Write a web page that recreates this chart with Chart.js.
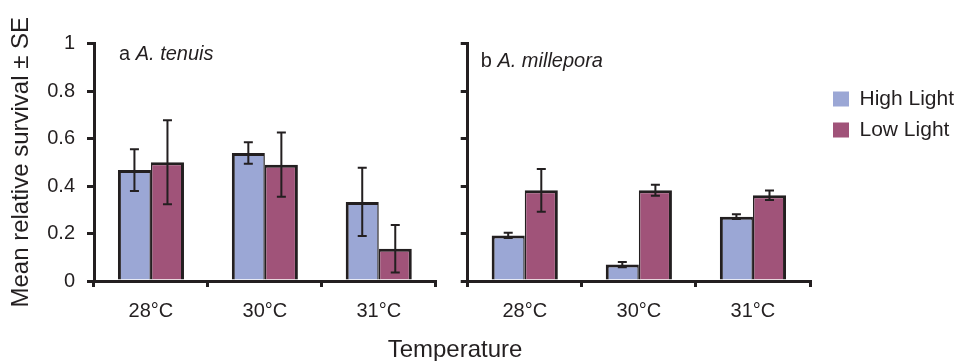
<!DOCTYPE html>
<html>
<head>
<meta charset="utf-8">
<script src="https://cdn.jsdelivr.net/npm/chart.js@4.4.1/dist/chart.umd.min.js"></script>
<style>
  html, body { margin: 0; padding: 0; background: #fff; overflow: hidden; }
  #wrap { position: relative; width: 959px; height: 361px; overflow: hidden; }
  canvas { position: absolute; top: 0; }
  #left { left: 0; }
  #right { left: 440px; }
</style>
</head>
<body>
<div id="wrap">
  <canvas id="left" width="959" height="361"></canvas>
  <canvas id="right" width="519" height="361"></canvas>
</div>
<script>
// data
const categories = ['28°C', '30°C', '31°C'];
const seriesNames = ['High Light', 'Low Light'];
const yTicks = [0, 0.2, 0.4, 0.6, 0.8, 1];

const tenuisHigh = [0.467, 0.539, 0.333];
const tenuisHighSE = [0.088, 0.045, 0.144];
const tenuisLow = [0.500, 0.490, 0.136];
const tenuisLowSE = [0.177, 0.135, 0.100];

const milleporaHigh = [0.192, 0.069, 0.271];
const milleporaHighSE = [0.011, 0.011, 0.010];
const milleporaLow = [0.382, 0.382, 0.361];
const milleporaLowSE = [0.090, 0.023, 0.020];

const ink = '#231F20';
const blue = '#9BA7D5';
const plum = '#A05379';
const family = '"Liberation Sans", Arial, sans-serif';

Chart.defaults.font.family = family;
Chart.defaults.color = ink;

// draws the ± SE whiskers on top of each bar
const errorBars = {
    id: 'errorBars',
    afterDatasetsDraw(chart) {
        const ctx = chart.ctx;
        const y = chart.scales.y;
        ctx.save();
        ctx.strokeStyle = ink;
        ctx.lineWidth = 2;
        chart.data.datasets.forEach((ds, i) => {
            chart.getDatasetMeta(i).data.forEach((bar, j) => {
                const top = y.getPixelForValue(ds.data[j] + ds.errors[j]);
                const bot = y.getPixelForValue(ds.data[j] - ds.errors[j]);
                const x = bar.x;
                ctx.beginPath();
                ctx.moveTo(x, top); ctx.lineTo(x, bot);
                ctx.moveTo(x - 4.5, top); ctx.lineTo(x + 4.5, top);
                ctx.moveTo(x - 4.5, bot); ctx.lineTo(x + 4.5, bot);
                ctx.stroke();
            });
        });
        ctx.restore();
    }
};

// panel letter + italic species name, and the shared x title
const panelText = {
    id: 'panelText',
    afterDraw(chart, args, o) {
        const ctx = chart.ctx;
        ctx.save();
        ctx.fillStyle = ink;
        ctx.textBaseline = 'alphabetic';
        ctx.font = '20px ' + family;
        const lead = o.letter + ' ';
        ctx.fillText(lead, o.x, o.y);
        const w = ctx.measureText(lead).width;
        ctx.font = 'italic 20px ' + family;
        ctx.fillText(o.species, o.x + w, o.y);
        if (o.xTitle) {
            ctx.font = '24px ' + family;
            ctx.textAlign = 'center';
            ctx.textBaseline = 'middle';
            ctx.fillText(o.xTitle, o.xTitleX, o.xTitleY);
        }
        ctx.restore();
    }
};

function makePanel(canvasId, high, highSE, low, lowSE, cfg) {
    const scales = {
        x: {
            z: 1,
            offset: true,
            grid: { offset: true, drawOnChartArea: false, color: ink, lineWidth: 3, tickLength: 6 },
            border: { color: ink, width: 3 },
            ticks: { color: ink, padding: 12, font: { size: 20 } },
            afterFit: s => { s.height = 56; }
        },
        y: {
            z: 1,
            min: 0,
            max: 1,
            afterBuildTicks: s => { s.ticks = yTicks.map(v => ({ value: v })); },
            grid: { drawOnChartArea: false, color: ink, lineWidth: 3, tickLength: 7 },
            border: { color: ink, width: 3 },
            ticks: {
                display: cfg.showYLabels,
                color: ink,
                padding: 12,
                font: { size: 20 },
                callback: v => String(+v.toFixed(1))
            },
            title: {
                display: cfg.showYLabels,
                text: 'Mean relative survival ± SE',
                color: ink,
                font: { size: 24 },
                padding: { top: 7, bottom: 0 }
            },
            afterFit: s => { s.width = cfg.yWidth; }
        }
    };
    if (cfg.legend) {
        // empty spacer axis between the plot and the legend
        scales.gap = {
            type: 'linear',
            position: 'right',
            display: true,
            grid: { display: false },
            border: { display: false },
            ticks: { display: false },
            afterFit: s => { s.width = 13; }
        };
    }

    return new Chart(document.getElementById(canvasId), {
        type: 'bar',
        data: {
            labels: categories,
            datasets: [
                {
                    label: seriesNames[0],
                    data: high,
                    errors: highSE,
                    backgroundColor: blue,
                    borderColor: ink,
                    borderWidth: { top: 3, left: 3, right: 1.5, bottom: 0 },
                    categoryPercentage: 0.58,
                    barPercentage: 1
                },
                {
                    label: seriesNames[1],
                    data: low,
                    errors: lowSE,
                    backgroundColor: plum,
                    borderColor: ink,
                    borderWidth: { top: 3, left: 1.5, right: 3, bottom: 0 },
                    categoryPercentage: 0.58,
                    barPercentage: 1
                }
            ]
        },
        options: {
            responsive: false,
            animation: false,
            layout: { padding: cfg.padding },
            scales: scales,
            plugins: {
                tooltip: { enabled: false },
                legend: {
                    display: cfg.legend,
                    position: 'right',
                    align: 'start',
                    maxWidth: 136,
                    title: { display: true, text: '', padding: { top: 25, bottom: 0 }, font: { size: 10, lineHeight: 1 } },
                    labels: {
                        color: ink,
                        boxWidth: 16,
                        boxHeight: 15,
                        padding: 10,
                        font: { size: 21 },
                        generateLabels: chart => Chart.defaults.plugins.legend.labels.generateLabels(chart)
                            .map(it => Object.assign(it, { lineWidth: 0, strokeStyle: 'rgba(0,0,0,0)' }))
                    }
                },
                panelText: cfg.text
            }
        },
        plugins: [errorBars, panelText]
    });
}

makePanel('left', tenuisHigh, tenuisHighSE, tenuisLow, tenuisLowSE, {
    showYLabels: true,
    yWidth: 94,
    legend: false,
    padding: { top: 43.5, right: 523.3, bottom: 24, left: 0 },
    text: { letter: 'a', species: 'A. tenuis', x: 119, y: 60, xTitle: 'Temperature', xTitleX: 455, xTitleY: 350 }
});

makePanel('right', milleporaHigh, milleporaHighSE, milleporaLow, milleporaLowSE, {
    showYLabels: false,
    yWidth: 27.7,
    legend: true,
    padding: { top: 43.5, right: 0, bottom: 24, left: 0 },
    text: { letter: 'b', species: 'A. millepora', x: 40.7, y: 66.7 }
});
</script>
</body>
</html>
